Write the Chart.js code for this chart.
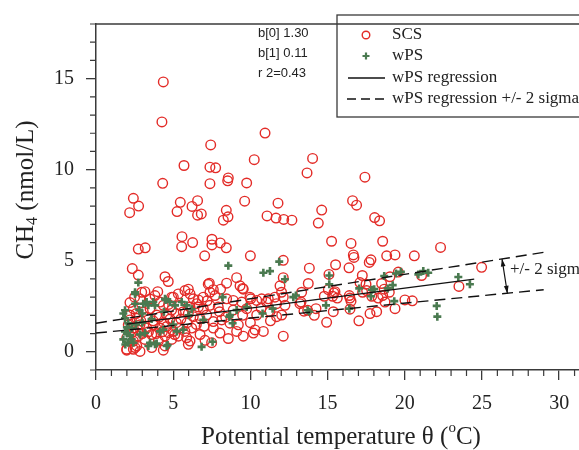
<!DOCTYPE html>
<html>
<head>
<meta charset="utf-8">
<script src="https://cdn.jsdelivr.net/npm/chart.js@4.4.1/dist/chart.umd.min.js"></script>
<style>
  html, body { margin: 0; padding: 0; background: #fff; overflow: hidden; }
  #wrap { width: 600px; height: 450px; }
</style>
</head>
<body>
<div id="wrap"><canvas id="chart" width="600" height="450"></canvas></div>
<script>
"use strict";

// SCS samples: [potential temperature, CH4]
const scsPoints = [
  [4.36,14.82],[4.27,12.62],[10.95,12.01],[7.43,11.36],[5.70,10.23],[7.38,10.14],[7.75,10.10],[10.25,10.55],
  [8.57,9.55],[8.53,9.39],[4.32,9.25],[7.38,9.23],[9.76,9.27],[2.42,8.43],[2.76,8.00],[2.18,7.64],
  [5.46,8.21],[5.25,7.70],[6.58,8.30],[6.22,7.98],[6.58,7.50],[6.82,7.57],[8.44,7.77],[8.55,7.41],
  [8.25,7.23],[9.63,8.27],[11.79,8.16],[11.08,7.46],[11.66,7.34],[12.16,7.27],[12.69,7.23],[2.74,5.64],
  [3.19,5.71],[5.57,6.32],[6.26,6.00],[7.51,6.18],[7.51,5.87],[8.05,5.98],[8.44,5.71],[7.04,5.27],
  [10.00,5.27],[5.55,5.77],
  [14.03,10.62],[13.67,9.82],[17.42,9.59],[16.62,8.30],[16.88,8.05],[14.62,7.78],[14.40,7.07],[18.05,7.37],
  [18.37,7.19],[15.26,6.07],[16.52,5.95],[18.57,6.07],[22.32,5.73],[16.67,5.32],[16.71,5.18],[17.70,4.91],
  [17.81,5.05],[18.83,5.27],[19.37,5.32],[20.62,5.27],[13.82,4.59],[15.52,4.78],[16.39,4.61],[15.09,4.25],
  [17.25,4.19],[19.58,4.38],[21.09,4.19],[24.98,4.64],[23.51,3.59],[13.75,3.75],[15.05,3.41],[15.41,3.23],
  [15.63,2.95],[17.10,3.80],[17.49,3.71],[18.50,3.75],[17.53,3.36],[17.86,3.05],[18.28,2.95],[19.04,4.12],
  [16.45,2.95],[16.52,2.77],[16.45,2.34],[17.75,2.10],[18.18,2.20],[17.03,1.70],[14.94,1.62],[15.37,2.20],
  [18.72,2.73],[19.37,2.37],[20.01,2.85],[20.49,2.80],[13.32,3.27],[13.21,2.64],[12.13,0.86],
  [14.79,3.05],[15.33,3.05],[15.48,3.30],[16.41,3.09],[17.27,3.27],[18.67,3.44],[19.00,3.27],[18.57,3.09],
  [14.25,2.37],[13.28,2.73],[14.14,2.00],[13.71,2.28],[13.47,2.23],
  [12.13,5.02],[12.13,4.07],[11.92,3.62],[12.24,2.55],[12.03,2.02],
  [2.35,4.57],[2.74,4.21],[4.47,4.12],[4.68,3.86],[5.98,3.44],[6.09,3.18],[6.30,2.91],[2.96,3.27],
  [2.85,2.91],[3.82,3.09],[4.15,2.73],[7.27,3.71],[8.46,3.77],[9.11,4.07],[9.33,3.62],[9.50,3.48],
  [8.07,3.44],[7.38,3.27],[7.71,3.09],[6.95,3.00],[5.33,3.18],[4.90,3.00],[8.46,2.91],[8.89,2.82],
  [9.44,2.73],[9.97,3.00],[10.41,2.82],[11.16,2.91],[11.70,2.64],[12.13,3.00],
  [6.52,2.64],[6.09,2.46],[6.95,2.37],[7.38,2.55],[7.92,2.46],[8.89,2.29],[9.76,2.37],[10.41,2.02],
  [11.27,2.20],[11.70,1.93],[6.30,1.93],[6.74,1.84],[7.17,2.02],[7.60,1.66],[8.14,1.75],[8.68,1.57],
  [9.22,1.48],[8.03,1.03],[9.11,1.12],[10.19,1.03],[10.84,1.12],[6.74,0.95],[6.09,0.59],[7.06,0.63],
  [8.57,0.73],[7.49,0.50],[9.54,0.86],[5.98,0.41],[4.36,0.09],[2.85,0.02],[1.99,0.09],[2.53,0.23],
  [7.34,3.77],[7.60,3.41],[5.76,3.36],[9.54,3.44],[10.02,2.91],[10.73,2.91],[11.05,2.73],[11.59,3.00],
  [12.02,3.27],[10.30,1.20],
  [2.42,2.37],[2.20,2.02],[2.64,1.84],[3.06,2.20],[3.50,2.37],[3.93,2.02],[4.36,2.55],[4.58,2.02],
  [4.90,2.29],[5.44,2.55],[5.65,2.20],[5.98,2.10],[6.63,2.46],[2.09,1.48],[2.42,1.30],[2.85,1.48],
  [3.28,1.30],[3.71,1.48],[4.15,1.30],[4.58,1.39],[5.01,1.12],[5.44,1.30],[5.76,1.12],[6.20,1.30],
  [1.99,0.77],[2.42,0.59],[2.74,0.86],[3.17,0.68],[3.61,0.95],[4.04,0.59],[4.47,0.86],[4.90,0.68],
  [5.33,0.86],[5.87,0.77],[2.64,0.32],[3.61,0.23],[4.47,0.32],[1.99,0.14],[2.42,0.14],
  [3.17,3.30],[5.01,3.00],[6.63,2.85],
  [2.20,1.75],[2.60,2.10],[2.90,1.70],[3.30,1.90],[3.70,1.70],[4.10,1.90],[4.40,1.60],[4.80,1.80],
  [5.20,1.60],[5.50,1.80],[2.30,1.05],[2.70,1.20],[3.00,1.00],[3.40,1.10],[3.90,1.00],[4.30,1.10],
  [4.70,1.05],[5.10,0.95],[2.20,2.70],[2.50,3.00],[3.50,2.90],[4.00,3.30],[4.70,2.60],[5.20,2.10],
  [5.90,1.60],[6.50,1.50],[7.00,1.40],[7.60,1.30],[7.20,2.80],[8.00,2.20],[8.40,1.90],[9.50,2.00],
  [10.00,1.60],[10.70,2.40],[11.30,1.70]
];

// wPS samples: [potential temperature, CH4]
const wpsPoints = [
  [2.74,3.80],[2.53,3.18],[2.53,2.64],[3.06,2.64],[3.39,2.55],[3.82,2.55],[4.47,2.91],[4.79,2.73],
  [5.12,2.55],[5.55,2.73],[5.87,2.55],[1.77,2.10],[1.88,1.84],[2.09,1.57],[2.31,1.30],[1.88,1.12],
  [1.77,0.68],[2.31,0.68],[2.09,0.50],[2.42,0.50],[2.85,0.95],[3.17,1.03],[3.39,0.32],[3.82,0.41],
  [4.15,1.12],[4.58,0.32],[5.23,1.12],[5.65,1.21],[2.53,3.27],[3.28,2.73],[4.51,2.85],[6.20,2.34],
  [6.84,0.27],[7.55,0.55],[6.95,1.75],[8.68,2.02],[8.57,4.73],[9.11,2.29],[10.84,4.34],[11.27,4.43],
  [11.87,4.95],[12.24,3.98],[12.78,3.00],[9.76,2.46],[1.88,2.28],[3.71,2.73],[4.36,1.21],[4.64,0.37],
  [3.93,0.45],[3.50,0.50],[8.20,3.00],[8.64,1.93],[8.85,1.57],[10.79,2.10],[11.44,2.37],
  [15.11,4.19],[15.11,3.71],[18.67,4.16],[19.43,4.30],[19.75,4.39],[17.05,3.48],[17.81,3.05],[18.02,3.44],
  [18.89,3.48],[19.22,3.66],[14.90,2.55],[13.82,2.20],[13.71,2.28],[16.41,2.37],[19.32,2.78],[12.95,3.09],
  [21.20,4.43],[21.52,4.34],[23.47,4.11],[24.22,3.71],[22.07,2.52],[22.11,1.93],[17.86,3.41],[20.88,4.25],
  [2.00,1.00],[2.20,0.90],[2.60,1.50],[2.00,1.35],[1.90,0.40],[3.00,2.10],[3.60,1.80],[2.80,2.30],
  [4.40,2.20],[5.00,1.50],[6.00,2.00],[3.00,1.60]
];

// wPS regression: b[0] 1.30, b[1] 0.11
const regX = [2, 24.5];
const regY = [1.52, 3.99];
// +/- 2 sigma band
const bandX = [0, 29];
const upperY = [1.57, 5.46];
const lowerY = [1.03, 3.41];

const xTicks = [0, 5, 10, 15, 20, 25, 30];
const yTicks = [0, 5, 10, 15];
const statLines = ['b[0] 1.30', 'b[1] 0.11', 'r 2=0.43'];
const legendLabels = ['SCS', 'wPS', 'wPS regression', 'wPS regression +/- 2 sigma'];

const RED = '#e32b27';
const GREEN = '#4a7a50';
const AXIS = '#3a3a3a';
const SERIF = '"Liberation Serif", "Times New Roman", serif';
const SANS = '"Liberation Sans", Arial, sans-serif';

const toXY = (xs, ys) => xs.map((v, i) => ({ x: v, y: ys[i] }));

const decor = {
  id: 'decor',
  afterDraw(chart) {
    const { ctx, chartArea: a, scales: { x, y } } = chart;
    ctx.save();

    // top frame
    ctx.strokeStyle = AXIS;
    ctx.lineWidth = 1.5;
    ctx.beginPath();
    ctx.moveTo(a.left, a.top);
    ctx.lineTo(a.right, a.top);
    ctx.stroke();

    // minor ticks every unit
    ctx.lineWidth = 1.2;
    ctx.beginPath();
    for (let v = 0; v <= 32; v++) {
      if (v % 5 === 0) continue;
      const px = x.getPixelForValue(v);
      ctx.moveTo(px, a.bottom);
      ctx.lineTo(px, a.bottom + 6);
    }
    for (let v = -1; v <= 18; v++) {
      if (v % 5 === 0) continue;
      const py = y.getPixelForValue(v);
      ctx.moveTo(a.left - 6, py);
      ctx.lineTo(a.left, py);
    }
    ctx.stroke();

    // regression statistics
    ctx.fillStyle = '#222';
    ctx.font = '13px ' + SANS;
    ctx.textBaseline = 'middle';
    ctx.textAlign = 'left';
    statLines.forEach((s, i) => ctx.fillText(s, 258, 33 + i * 20));

    // legend box
    ctx.strokeStyle = AXIS;
    ctx.lineWidth = 1.3;
    ctx.strokeRect(337, 15, 400, 102);
    ctx.font = '17px ' + SERIF;
    ctx.fillStyle = '#222';
    const rows = [35, 56, 78, 99];
    legendLabels.forEach((s, i) => ctx.fillText(s, 392, rows[i]));
    ctx.strokeStyle = RED;
    ctx.lineWidth = 1.4;
    ctx.beginPath();
    ctx.arc(366, rows[0], 3.8, 0, Math.PI * 2);
    ctx.stroke();
    ctx.strokeStyle = GREEN;
    ctx.lineWidth = 2.2;
    ctx.beginPath();
    ctx.moveTo(362.5, rows[1]); ctx.lineTo(369.5, rows[1]);
    ctx.moveTo(366, rows[1] - 3.5); ctx.lineTo(366, rows[1] + 3.5);
    ctx.stroke();
    ctx.strokeStyle = '#111';
    ctx.lineWidth = 1.4;
    ctx.beginPath();
    ctx.moveTo(348, rows[2]); ctx.lineTo(385, rows[2]);
    ctx.stroke();
    ctx.setLineDash([9, 5]);
    ctx.beginPath();
    ctx.moveTo(347, rows[3]); ctx.lineTo(386, rows[3]);
    ctx.stroke();
    ctx.setLineDash([]);

    // +/- 2 sigma arrow
    const ax1 = x.getPixelForValue(26.3), ay1 = y.getPixelForValue(5.1);
    const ax2 = x.getPixelForValue(26.65), ay2 = y.getPixelForValue(3.2);
    const ang = Math.atan2(ay2 - ay1, ax2 - ax1);
    ctx.strokeStyle = '#111';
    ctx.fillStyle = '#111';
    ctx.lineWidth = 1.2;
    ctx.beginPath();
    ctx.moveTo(ax1, ay1); ctx.lineTo(ax2, ay2);
    ctx.stroke();
    const head = (hx, hy, t) => {
      ctx.beginPath();
      ctx.moveTo(hx, hy);
      ctx.lineTo(hx - 8 * Math.cos(t - 0.3), hy - 8 * Math.sin(t - 0.3));
      ctx.lineTo(hx - 8 * Math.cos(t + 0.3), hy - 8 * Math.sin(t + 0.3));
      ctx.closePath();
      ctx.fill();
    };
    head(ax2, ay2, ang);
    head(ax1, ay1, ang + Math.PI);
    ctx.font = '17px ' + SERIF;
    ctx.fillStyle = '#222';
    ctx.fillText('+/- 2 sigma', 510, 270);

    // y axis title: CH4 (nmol/L)
    ctx.save();
    ctx.translate(26, 190);
    ctx.rotate(-Math.PI / 2);
    ctx.textAlign = 'left';
    const p1 = 'CH', p3 = ' (nmol/L)';
    ctx.font = '25px ' + SERIF;
    const w1 = ctx.measureText(p1).width;
    const w3 = ctx.measureText(p3).width;
    ctx.font = '16px ' + SERIF;
    const w2 = ctx.measureText('4').width;
    const sx = -(w1 + w2 + w3) / 2;
    ctx.font = '25px ' + SERIF;
    ctx.fillText(p1, sx, 0);
    ctx.font = '16px ' + SERIF;
    ctx.fillText('4', sx + w1, 7);
    ctx.font = '25px ' + SERIF;
    ctx.fillText(p3, sx + w1 + w2, 0);
    ctx.restore();

    // x axis title: Potential temperature θ (°C)
    const q1 = 'Potential temperature θ (', q3 = 'C)';
    ctx.font = '25px ' + SERIF;
    const v1 = ctx.measureText(q1).width, v3 = ctx.measureText(q3).width;
    ctx.font = '15px ' + SERIF;
    const v2 = ctx.measureText('o').width;
    const tx = 341 - (v1 + v2 + v3) / 2;
    ctx.textAlign = 'left';
    ctx.font = '25px ' + SERIF;
    ctx.fillText(q1, tx, 437);
    ctx.font = '15px ' + SERIF;
    ctx.fillText('o', tx + v1, 428);
    ctx.font = '25px ' + SERIF;
    ctx.fillText(q3, tx + v1 + v2, 437);

    ctx.restore();
  }
};

new Chart(document.getElementById('chart'), {
  type: 'scatter',
  data: {
    datasets: [
      {
        label: 'SCS',
        data: scsPoints.map(p => ({ x: p[0], y: p[1] })),
        pointStyle: 'circle',
        pointRadius: 4.8,
        backgroundColor: 'rgba(0,0,0,0)',
        borderColor: RED,
        borderWidth: 1.4,
        order: 4
      },
      {
        label: 'wPS',
        data: wpsPoints.map(p => ({ x: p[0], y: p[1] })),
        pointStyle: 'cross',
        pointRadius: 4,
        borderColor: GREEN,
        borderWidth: 2.6,
        order: 3
      },
      {
        label: 'wPS regression',
        type: 'line',
        data: toXY(regX, regY),
        borderColor: '#111',
        borderWidth: 1.4,
        pointRadius: 0,
        order: 1
      },
      {
        label: 'upper',
        type: 'line',
        data: toXY(bandX, upperY),
        borderColor: '#111',
        borderWidth: 1.4,
        borderDash: [11, 6],
        pointRadius: 0,
        order: 2
      },
      {
        label: 'lower',
        type: 'line',
        data: toXY(bandX, lowerY),
        borderColor: '#111',
        borderWidth: 1.4,
        borderDash: [11, 6],
        pointRadius: 0,
        order: 2
      }
    ]
  },
  options: {
    responsive: false,
    animation: false,
    layout: { padding: { top: 15, right: 10, left: 0, bottom: 0 } },
    plugins: { legend: { display: false }, tooltip: { enabled: false } },
    scales: {
      x: {
        type: 'linear',
        min: 0,
        max: 32,
        afterFit: s => { s.height = 80; },
        afterBuildTicks: s => { s.ticks = xTicks.map(v => ({ value: v })); },
        grid: { display: true, drawOnChartArea: false, drawTicks: true, tickLength: 10, color: AXIS, lineWidth: 1.3 },
        border: { display: true, color: AXIS, width: 1.5 },
        ticks: { font: { family: SERIF, size: 20 }, color: '#222', padding: 12, maxRotation: 0 }
      },
      y: {
        type: 'linear',
        min: -1,
        max: 18,
        afterFit: s => { s.width = 96; },
        afterBuildTicks: s => { s.ticks = yTicks.map(v => ({ value: v })); },
        grid: { display: true, drawOnChartArea: false, drawTicks: true, tickLength: 10, color: AXIS, lineWidth: 1.3 },
        border: { display: true, color: AXIS, width: 1.5 },
        ticks: { font: { family: SERIF, size: 20 }, color: '#222', padding: 12 }
      }
    }
  },
  plugins: [decor]
});
</script>
</body>
</html>
